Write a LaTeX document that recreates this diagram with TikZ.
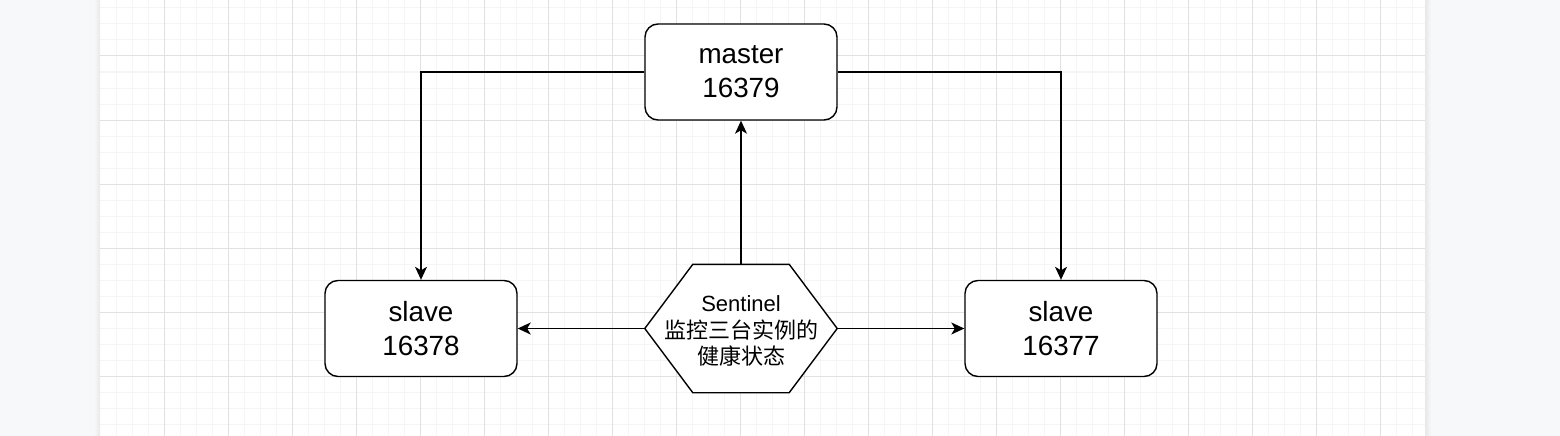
\documentclass[tikz,border=0pt]{standalone}
\usepackage{fontspec}
\setmainfont{Liberation Sans}
\newfontfamily\cjk{Noto Sans CJK SC}
\usetikzlibrary{arrows.meta}
\definecolor{panel}{HTML}{F7F8FA}
\definecolor{minorgrid}{HTML}{F5F5F5}
\definecolor{majorgrid}{HTML}{E1E1E1}
\tikzset{
  minorline/.style={draw=minorgrid, line width=1pt},
  majorline/.style={draw=majorgrid, line width=1pt},
  box/.style={draw=black, line width=1.4pt, fill=white, rounded corners=13pt,
    minimum width=192pt, minimum height=96pt, inner sep=0pt, align=center,
    font=\fontsize{27.8}{34}\selectfont},
  hexholder/.style={minimum width=192pt, minimum height=128pt, inner sep=0pt,
    align=center, font=\fontsize{22}{26.4}\selectfont},
  hexline/.style={draw=black, line width=1.4pt, fill=white, line join=miter},
  conn/.style={draw=black, line width=1.4pt,
    -{Stealth[length=13pt, width=12pt, inset=3.5pt]}}
}
\begin{document}
\begin{tikzpicture}[x=1pt, y=-1pt]
\useasboundingbox (0,0) rectangle (1560,436);
% background panels
\fill[panel] (0,0) rectangle (100,436);
\fill[white] (100,0) rectangle (1425,436);
\fill[panel] (1425,0) rectangle (1560,436);
\shade[left color=panel, right color=black!9] (94,0) rectangle (100,436);
\shade[left color=black!9, right color=panel] (1425,0) rectangle (1431,436);
% grid
\foreach \x in {116,132,...,1424} \draw[minorline] (\x,0) -- (\x,436);
\foreach \y in {8,24,...,436} \draw[minorline] (100,\y) -- (1425,\y);
\foreach \x in {164,228,...,1424} \draw[majorline] (\x,0) -- (\x,436);
\foreach \y in {56,120,...,436} \draw[majorline] (100,\y) -- (1425,\y);
% nodes
\node[box] (m) at (741,72) {master\\16379};
\node[box] (s1) at (421,328.5) {slave\\16378};
\node[box] (s2) at (1061,328.5) {slave\\16377};
\node[hexholder] (h) at (741,328.5) {};
\path[hexline] (h.west) -- ([xshift=48pt]h.north west) -- ([xshift=-48pt]h.north east)
  -- (h.east) -- ([xshift=-48pt]h.south east) -- ([xshift=48pt]h.south west) -- cycle;
\node[hexholder] (ht) at (741,331) {Sentinel\\{\cjk 监控三台实例的}\\{\cjk 健康状态}};
% connectors
\draw[conn] (h.north) -- (m.south);
\draw[conn] (h.west) -- (s1.east);
\draw[conn] (h.east) -- (s2.west);
\draw[conn] (m.west) -| (s1.north);
\draw[conn] (m.east) -| (s2.north);
\end{tikzpicture}
\end{document}
